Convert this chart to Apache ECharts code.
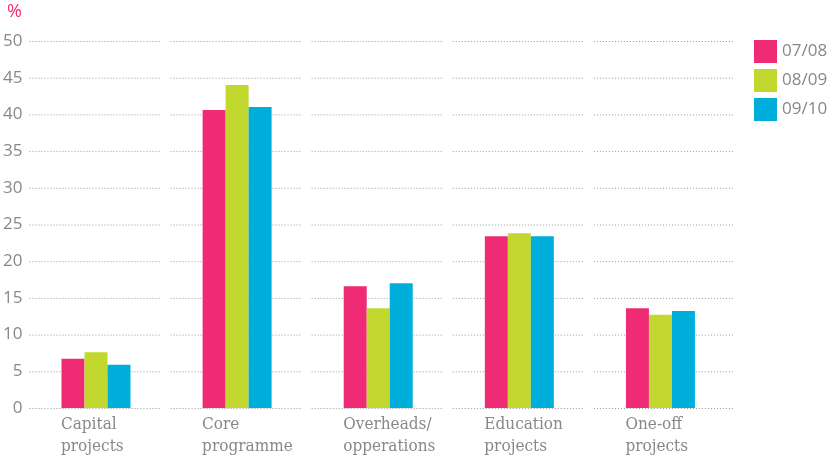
<!DOCTYPE html>
<html><head><meta charset="utf-8">
<script src="https://cdn.jsdelivr.net/npm/echarts@6/dist/echarts.min.js"></script>
<style>html,body{margin:0;padding:0;background:#fff}#c{width:832px;height:456px}</style>
</head><body><div id="c"></div>
<script>
const categories = ['Capital\nprojects', 'Core\nprogramme', 'Overheads/\nopperations', 'Education\nprojects', 'One-off\nprojects'];
const seriesNames = ['07/08', '08/09', '09/10'];
const s0708 = [6.7, 40.6, 16.6, 23.4, 13.6];
const s0809 = [7.6, 44.0, 13.6, 23.8, 12.7];
const s0910 = [5.9, 41.0, 17.0, 23.4, 13.2];
const yTicks = [0, 5, 10, 15, 20, 25, 30, 35, 40, 45, 50];
const colors = ['#EE2B74', '#C2D82E', '#00AEDB'];

const chart = echarts.init(document.getElementById('c'));
const labelFont = '"DejaVu Serif Condensed", "DejaVu Serif", serif';
const numFont = '"Open Sans", sans-serif';

const gridData = categories.map((c, i) => i);
chart.setOption({
  animation: false,
  grid: { left: 25, right: 101, top: 41, bottom: 48 },
  legend: {
    orient: 'vertical', left: 749, top: 35, itemWidth: 23, itemHeight: 23, itemGap: 6,
    icon: 'rect', data: seriesNames,
    textStyle: { color: '#888', fontSize: 17, fontFamily: numFont }
  },
  graphic: [{ type: 'text', left: 7, top: 3, style: { text: '%', fill: '#EE2B74', fontSize: 18, fontFamily: numFont } }],
  xAxis: {
    type: 'category', data: categories,
    axisLine: { show: false }, axisTick: { show: false }, splitLine: { show: false },
    axisLabel: {
      margin: 6, interval: 0,
      formatter: v => v.split('\n').map(l => '{a|' + l + '}').join('\n'),
      rich: { a: { width: 70, align: 'left', color: '#888', fontSize: 17, lineHeight: 22, fontFamily: labelFont } }
    }
  },
  yAxis: {
    type: 'value', min: 0, max: 50, interval: 5,
    axisLine: { show: false }, axisTick: { show: false }, splitLine: { show: false },
    axisLabel: { color: '#888', fontSize: 17, fontFamily: numFont, margin: 3 }
  },
  series: [
    {
      type: 'custom', data: gridData, silent: true, z: 0,
      renderItem: (params, api) => {
        const idx = api.value(0);
        const bw = api.size([1, 0])[0];
        const last = idx === categories.length - 1;
        const children = yTicks.map(t => {
          const p = api.coord([idx, t]);
          return { type: 'line', shape: { x1: p[0] - bw / 2 + 4, y1: p[1] + 0.5, x2: p[0] + bw / 2 + (last ? 2 : -6), y2: p[1] + 0.5 },
            style: { stroke: '#999', lineWidth: 1, lineDash: [1, 2] } };
        });
        return { type: 'group', children };
      },
      encode: { x: 0 }
    },
    { name: seriesNames[0], type: 'bar', data: s0708, barWidth: 23, barGap: '0%', itemStyle: { color: colors[0] } },
    { name: seriesNames[1], type: 'bar', data: s0809, barWidth: 23, barGap: '0%', itemStyle: { color: colors[1] } },
    { name: seriesNames[2], type: 'bar', data: s0910, barWidth: 23, barGap: '0%', itemStyle: { color: colors[2] } }
  ]
});
</script></body></html>
